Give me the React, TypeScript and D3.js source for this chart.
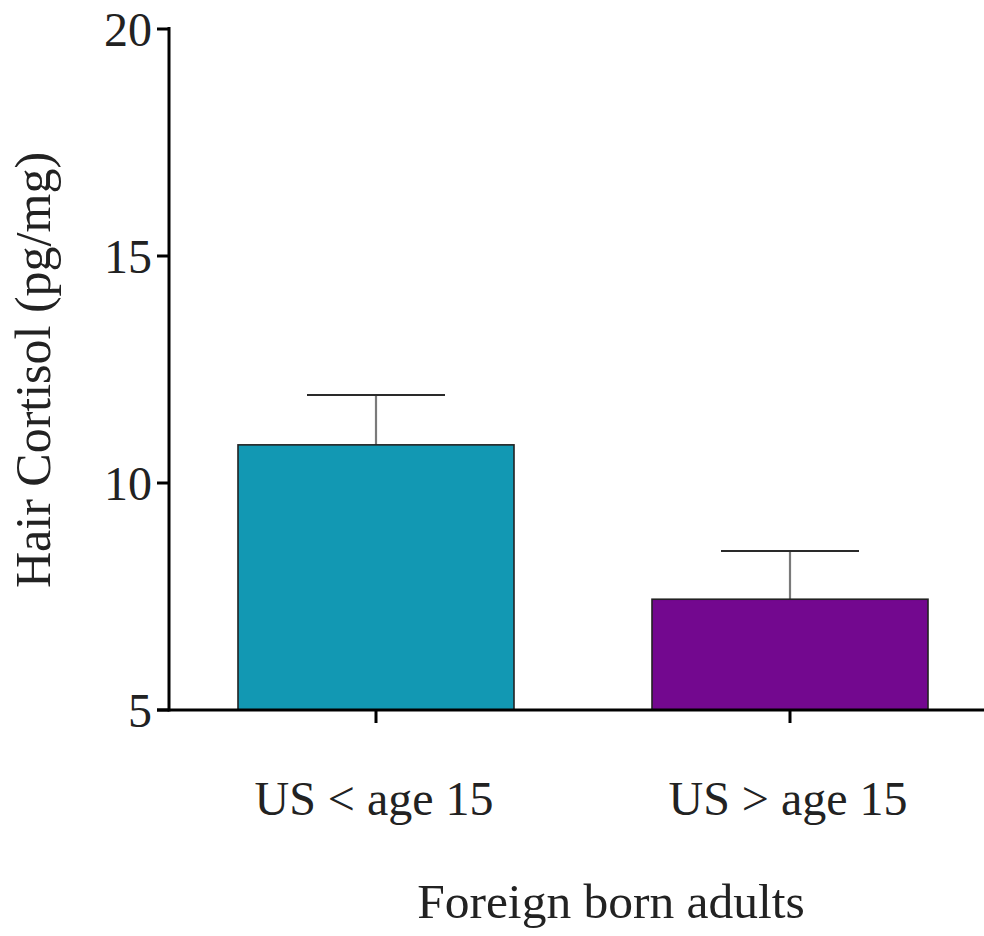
import React from "react";
import * as d3 from "d3";

// Hair cortisol by age at arrival in the US (foreign born adults)
const groups = ["US < age 15", "US > age 15"];
const means = [10.84, 7.44];
const errorTops = [11.94, 8.5];
const barColors = ["#1298b3", "#73088f"];
const yTicks = [5, 10, 15, 20];

const W = 984;
const H = 936;
const FONT = "'Liberation Serif', 'Times New Roman', Times, serif";

export default function App() {
  const x = d3
    .scaleBand<string>()
    .domain(groups)
    .range([169, 997])
    .paddingInner(1 / 3)
    .paddingOuter(1 / 6);
  const y = d3.scaleLinear().domain([5, 20]).range([710, 29]);
  const bw = x.bandwidth();
  const capHalf = bw * 0.25;

  return (
    <svg
      width={W}
      height={H}
      style={{ position: "absolute", left: 0, top: 0, background: "#fff" }}
      fontFamily={FONT}
    >
      {/* bars with upper error bars */}
      {groups.map((g, i) => {
        const x0 = x(g)!;
        const cx = x0 + bw / 2;
        return (
          <g key={g}>
            <line
              x1={cx}
              x2={cx}
              y1={y(means[i])}
              y2={y(errorTops[i])}
              stroke="#7a7a7a"
              strokeWidth={2.2}
            />
            <line
              x1={cx - capHalf}
              x2={cx + capHalf}
              y1={y(errorTops[i])}
              y2={y(errorTops[i])}
              stroke="#2a2a2a"
              strokeWidth={2}
            />
            <rect
              x={x0}
              y={y(means[i])}
              width={bw}
              height={y(5) - y(means[i])}
              fill={barColors[i]}
              stroke="#222"
              strokeWidth={1.6}
            />
          </g>
        );
      })}

      {/* y axis */}
      <line x1={169} x2={169} y1={y(20) - 2} y2={y(5) + 1.5} stroke="#000" strokeWidth={3} />
      {yTicks.map((t) => (
        <g key={t}>
          <line x1={157} x2={169} y1={y(t)} y2={y(t)} stroke="#000" strokeWidth={3} />
          <text
            x={152}
            y={y(t)}
            textAnchor="end"
            dominantBaseline="central"
            fontSize={48}
            fill="#222"
          >
            {t}
          </text>
        </g>
      ))}

      {/* x axis */}
      <line x1={157} x2={W} y1={y(5)} y2={y(5)} stroke="#000" strokeWidth={3} />
      {groups.map((g) => {
        const cx = x(g)! + bw / 2;
        return (
          <g key={g}>
            <line x1={cx} x2={cx} y1={y(5)} y2={723} stroke="#000" strokeWidth={3} />
            <text x={cx - 2} y={815} textAnchor="middle" fontSize={48} fill="#222">
              {g}
            </text>
          </g>
        );
      })}

      {/* axis titles */}
      <text x={611} y={918} textAnchor="middle" fontSize={49.5} fill="#222">
        Foreign born adults
      </text>
      <text
        transform={`translate(50, 370) rotate(-90)`}
        textAnchor="middle"
        fontSize={50}
        fill="#222"
      >
        Hair Cortisol (pg/mg)
      </text>
    </svg>
  );
}
